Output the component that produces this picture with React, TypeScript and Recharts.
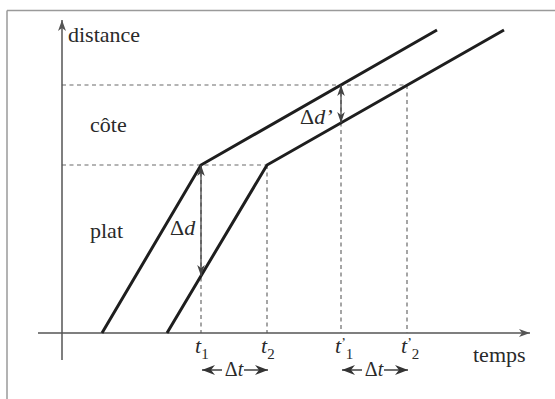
import React from 'react';
import { LineChart, Line, XAxis, YAxis, ReferenceLine, ReferenceDot } from 'recharts';

type Pt = { t: number; d: number };

// Two riders on the same route: flat section, then a climb (côte).
const riderA: Pt[] = [
  { t: 40, d: 0 },
  { t: 139, d: 168 },
  { t: 375, d: 303 },
];
const riderB: Pt[] = [
  { t: 105, d: 0 },
  { t: 205, d: 168 },
  { t: 442, d: 303 },
];

// Distance where the climb starts, and a later checkpoint on the climb
const climbStart = 168;
const checkpoint = 248;

// Instants on the time axis and their labels
const timeMarks = [139, 205, 279, 345];
const timeLabels = ['t1', 't2', "t'1", "t'2"];

// Gaps between the riders (distance) at t1 and t'1
const gapFlat = { t: 139, top: 168, bottom: 57 };
const gapClimb = { t: 279, top: 248, bottom: 210 };

const SERIF = "'Liberation Serif', 'DejaVu Serif', 'Times New Roman', serif";
const INK = '#2a2a2a';
const GUIDE = '#6a6a6a';

function headPath(x: number, y: number, ux: number, uy: number, len: number, half: number, notch: number) {
  const bx = x - ux * len;
  const by = y - uy * len;
  const px = -uy;
  const py = ux;
  const nx = x - ux * (len - notch);
  const ny = y - uy * (len - notch);
  return `M${x},${y} L${bx + px * half},${by + py * half} L${nx},${ny} L${bx - px * half},${by - py * half} Z`;
}

type ArrowOpts = { start?: boolean; end?: boolean; color: string; width: number; len: number; half: number; notch: number };

const arrowShape = (o: ArrowOpts) => (props: any) => {
  const { x1, y1, x2, y2 } = props;
  const dx = x2 - x1;
  const dy = y2 - y1;
  const L = Math.sqrt(dx * dx + dy * dy) || 1;
  const ux = dx / L;
  const uy = dy / L;
  return (
    <g>
      <line x1={x1} y1={y1} x2={x2} y2={y2} stroke={o.color} strokeWidth={o.width} />
      {o.end && <path d={headPath(x2, y2, ux, uy, o.len, o.half, o.notch)} fill={o.color} />}
      {o.start && <path d={headPath(x1, y1, -ux, -uy, o.len, o.half, o.notch)} fill={o.color} />}
    </g>
  );
};

const axisArrow = arrowShape({ end: true, color: '#555', width: 1.5, len: 11, half: 4, notch: 3 });
const gapArrow = arrowShape({ start: true, end: true, color: '#444', width: 1.3, len: 11, half: 3.8, notch: 3 });
const spanArrow = arrowShape({ end: true, color: '#333', width: 1.4, len: 13, half: 5, notch: 4 });

const plainLine = (color: string, width: number) => (props: any) => (
  <line x1={props.x1} y1={props.y1} x2={props.x2} y2={props.y2} stroke={color} strokeWidth={width} />
);

const textAt = (content: React.ReactNode, opts: { size?: number; anchor?: string } = {}) => (props: any) => (
  <text
    x={props.cx}
    y={props.cy}
    fill={INK}
    textAnchor={opts.anchor ?? 'start'}
    style={{ fontFamily: SERIF, fontSize: opts.size ?? 22 }}
  >
    {content}
  </text>
);

function timeLabel(label: string) {
  const prime = label.includes("'");
  const sub = label.replace("'", '').slice(1);
  if (!prime) {
    return (
      <>
        <tspan style={{ fontStyle: 'italic' }}>t</tspan>
        <tspan style={{ fontSize: 15 }} dy={6}>{sub}</tspan>
      </>
    );
  }
  return (
    <>
      <tspan style={{ fontStyle: 'italic' }}>t</tspan>
      <tspan style={{ fontSize: 14 }} dy={-5}>’</tspan>
      <tspan style={{ fontSize: 15 }} dy={11}>{sub}</tspan>
    </>
  );
}

function spanArrows(from: number, to: number, level: number, key: string) {
  const mid = (from + to) / 2;
  return [
    <ReferenceLine
      key={key + 'l'}
      segment={[{ x: mid - 12, y: level }, { x: from + 1, y: level }]}
      shape={spanArrow}
      ifOverflow="visible"
    />,
    <ReferenceLine
      key={key + 'r'}
      segment={[{ x: mid + 10, y: level }, { x: to + 1, y: level }]}
      shape={spanArrow}
      ifOverflow="visible"
    />,
    <ReferenceDot
      key={key + 't'}
      x={mid}
      y={level - 6}
      r={1}
      ifOverflow="visible"
      shape={textAt(
        <>
          <tspan>Δ</tspan>
          <tspan style={{ fontStyle: 'italic' }}>t</tspan>
        </>,
        { size: 20, anchor: 'middle' }
      )}
    />,
  ];
}

export default function App() {
  return (
    <div style={{ position: 'absolute', left: 0, top: 0, width: 555, height: 399, background: '#fff', fontFamily: SERIF }}>
      <LineChart width={555} height={399} margin={{ top: 0, right: 0, bottom: 0, left: 0 }}>
        <XAxis type="number" dataKey="t" domain={[-62, 493]} hide allowDataOverflow />
        <YAxis type="number" dataKey="d" domain={[-66, 333]} hide allowDataOverflow />

        {/* frame */}
        <ReferenceLine segment={[{ x: -55, y: 322.5 }, { x: 493, y: 322.5 }]} shape={plainLine('#9a9a9a', 1.5)} ifOverflow="visible" />
        <ReferenceLine segment={[{ x: -55, y: 322.5 }, { x: -55, y: -66 }]} shape={plainLine('#9a9a9a', 1.5)} ifOverflow="visible" />

        {/* guides */}
        <ReferenceLine segment={[{ x: 0, y: climbStart }, { x: timeMarks[1], y: climbStart }]} stroke={GUIDE} strokeWidth={1.2} strokeDasharray="4 3.5" ifOverflow="visible" />
        <ReferenceLine segment={[{ x: 0, y: checkpoint }, { x: timeMarks[3], y: checkpoint }]} stroke={GUIDE} strokeWidth={1.2} strokeDasharray="4 3.5" ifOverflow="visible" />
        {timeMarks.map((t, i) => (
          <ReferenceLine
            key={'v' + i}
            segment={[{ x: t, y: i < 2 ? climbStart : checkpoint }, { x: t, y: 0 }]}
            stroke={GUIDE}
            strokeWidth={1.2}
            strokeDasharray="4 3.5"
            ifOverflow="visible"
          />
        ))}

        {/* axes */}
        <ReferenceLine segment={[{ x: -24, y: 0 }, { x: 468, y: 0 }]} shape={axisArrow} ifOverflow="visible" />
        <ReferenceLine segment={[{ x: 0, y: -27 }, { x: 0, y: 313 }]} shape={axisArrow} ifOverflow="visible" />

        {/* riders */}
        <Line data={riderA} dataKey="d" type="linear" stroke="#1e1e1e" strokeWidth={3} dot={false} activeDot={false} isAnimationActive={false} />
        <Line data={riderB} dataKey="d" type="linear" stroke="#1e1e1e" strokeWidth={3} dot={false} activeDot={false} isAnimationActive={false} />

        {/* gaps */}
        <ReferenceLine segment={[{ x: gapFlat.t, y: gapFlat.top }, { x: gapFlat.t, y: gapFlat.bottom }]} shape={gapArrow} ifOverflow="visible" />
        <ReferenceLine segment={[{ x: gapClimb.t, y: gapClimb.top }, { x: gapClimb.t, y: gapClimb.bottom }]} shape={gapArrow} ifOverflow="visible" />

        {/* labels */}
        <ReferenceDot x={6} y={291} r={1} ifOverflow="visible" shape={textAt('distance')} />
        <ReferenceDot x={411} y={-29} r={1} ifOverflow="visible" shape={textAt('temps')} />
        <ReferenceDot x={28} y={201} r={1} ifOverflow="visible" shape={textAt('côte')} />
        <ReferenceDot x={28} y={95} r={1} ifOverflow="visible" shape={textAt('plat')} />
        <ReferenceDot
          x={108}
          y={98}
          r={1}
          ifOverflow="visible"
          shape={textAt(
            <>
              <tspan>Δ</tspan>
              <tspan style={{ fontStyle: 'italic' }}>d</tspan>
            </>
          )}
        />
        <ReferenceDot
          x={238}
          y={209}
          r={1}
          ifOverflow="visible"
          shape={textAt(
            <>
              <tspan>Δ</tspan>
              <tspan style={{ fontStyle: 'italic' }}>d’</tspan>
            </>
          )}
        />
        {timeMarks.map((t, i) => (
          <ReferenceDot
            key={'tl' + i}
            x={t - 6}
            y={-20}
            r={1}
            ifOverflow="visible"
            shape={textAt(timeLabel(timeLabels[i]))}
          />
        ))}
        {spanArrows(timeMarks[0], timeMarks[1], -37, 'dt1')}
        {spanArrows(timeMarks[2], timeMarks[3], -37, 'dt2')}
      </LineChart>
    </div>
  );
}
